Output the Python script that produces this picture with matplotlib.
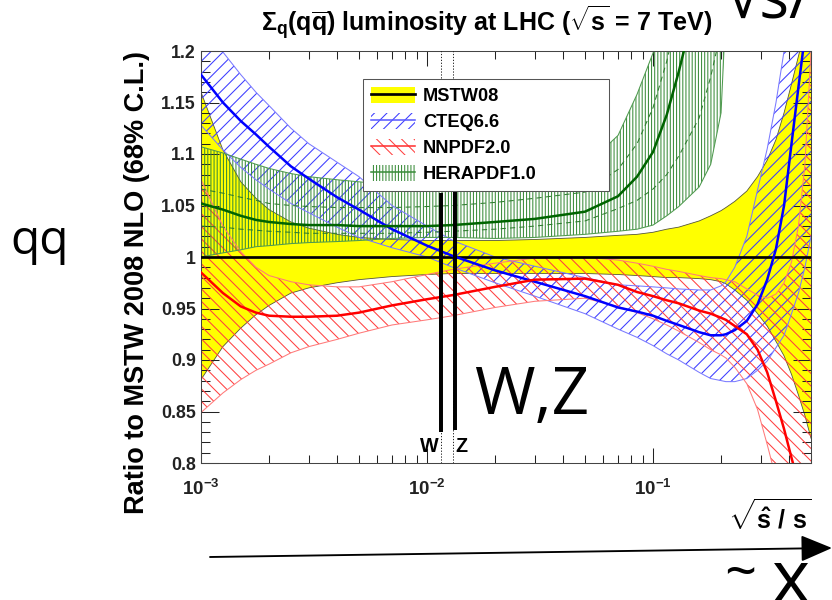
import numpy as np
import matplotlib
matplotlib.use("Agg")
import matplotlib.pyplot as plt
from matplotlib.patches import Patch, FancyArrowPatch
from matplotlib.lines import Line2D
from matplotlib.ticker import FixedLocator, LogLocator, MultipleLocator, FuncFormatter, NullFormatter

# ---------------- data ----------------
x = [0.001, 0.00125, 0.0015, 0.00175, 0.002, 0.0025, 0.003, 0.004, 0.005, 0.007,
     0.01, 0.013, 0.02, 0.03, 0.05, 0.07, 0.085, 0.1, 0.115, 0.13,
     0.16, 0.18, 0.2, 0.21, 0.23, 0.26, 0.29, 0.32, 0.35, 0.38,
     0.41, 0.44, 0.47, 0.5]

mstw_hi = [1.160, 1.104, 1.073, 1.057, 1.046, 1.034, 1.028, 1.022, 1.019, 1.017,
           1.016, 1.016, 1.016, 1.017, 1.019, 1.021, 1.022, 1.024, 1.027, 1.029,
           1.035, 1.040, 1.045, 1.048, 1.054, 1.064, 1.078, 1.094, 1.114, 1.140,
           1.168, 1.195, 1.220, 1.250]
mstw_lo = [0.881, 0.913, 0.931, 0.944, 0.953, 0.965, 0.970, 0.975, 0.978, 0.981,
           0.983, 0.984, 0.984, 0.984, 0.984, 0.983, 0.982, 0.981, 0.980, 0.980,
           0.979, 0.978, 0.976, 0.974, 0.968, 0.958, 0.945, 0.933, 0.918, 0.904,
           0.886, 0.866, 0.846, 0.824]

cteq_c = [1.177, 1.150, 1.132, 1.119, 1.107, 1.088, 1.076, 1.058, 1.046, 1.027,
          1.011, 1.001, 0.987, 0.976, 0.962, 0.951, 0.947, 0.943, 0.938, 0.934,
          0.927, 0.924, 0.924, 0.925, 0.929, 0.938, 0.954, 0.978, 1.008, 1.050,
          1.110, 1.165, 1.215, 1.270]
cteq_hi = [1.225, 1.199, 1.177, 1.160, 1.147, 1.125, 1.110, 1.092, 1.078, 1.050,
           1.030, 1.016, 1.000, 0.991, 0.980, 0.973, 0.972, 0.971, 0.970, 0.969,
           0.968, 0.968, 0.972, 0.976, 0.990, 1.020, 1.065, 1.105, 1.150, 1.200,
           1.250, 1.300, 1.350, 1.400]
cteq_lo = [1.128, 1.104, 1.087, 1.075, 1.066, 1.052, 1.043, 1.029, 1.019, 1.009,
           1.000, 0.990, 0.975, 0.962, 0.945, 0.930, 0.922, 0.914, 0.906, 0.900,
           0.888, 0.882, 0.880, 0.879, 0.879, 0.882, 0.890, 0.899, 0.912, 0.924,
           0.945, 0.965, 0.990, 1.020]

nnpdf_c = [0.985, 0.965, 0.952, 0.946, 0.943, 0.942, 0.942, 0.943, 0.946, 0.953,
           0.959, 0.963, 0.971, 0.978, 0.979, 0.973, 0.966, 0.962, 0.958, 0.955,
           0.948, 0.945, 0.941, 0.939, 0.933, 0.925, 0.910, 0.888, 0.860, 0.833,
           0.805, 0.780, 0.760, 0.740]
nnpdf_hi = [1.075, 1.030, 1.005, 0.990, 0.982, 0.976, 0.973, 0.971, 0.971, 0.976,
            0.983, 0.988, 0.994, 0.999, 1.000, 0.997, 0.994, 0.991, 0.988, 0.986,
            0.982, 0.980, 0.979, 0.978, 0.976, 0.969, 0.963, 0.960, 0.964, 0.975,
            0.995, 1.030, 1.090, 1.200]
nnpdf_lo = [0.849, 0.868, 0.881, 0.890, 0.896, 0.907, 0.913, 0.920, 0.926, 0.934,
            0.939, 0.943, 0.951, 0.957, 0.960, 0.952, 0.946, 0.940, 0.934, 0.928,
            0.917, 0.910, 0.905, 0.902, 0.893, 0.877, 0.852, 0.818, 0.785, 0.760,
            0.740, 0.720, 0.700, 0.680]

nan = np.nan
hera_c = [1.052, 1.046, 1.040, 1.036, 1.034, 1.032, 1.031, 1.031, 1.030, 1.030,
          1.030, 1.031, 1.034, 1.037, 1.044, 1.059, 1.078, 1.102, 1.138, 1.180,
          1.260, 1.320, 1.380, 1.410, nan, nan, nan, nan, nan, nan,
          nan, nan, nan, nan]
hera_hi = [1.107, 1.101, 1.095, 1.090, 1.086, 1.081, 1.078, 1.075, 1.073, 1.070,
           1.068, 1.068, 1.068, 1.071, 1.088, 1.118, 1.158, 1.198, 1.240, 1.290,
           1.380, 1.450, 1.520, 1.560, nan, nan, nan, nan, nan, nan,
           nan, nan, nan, nan]
hera_lo = [1.000, 1.004, 1.007, 1.010, 1.011, 1.013, 1.014, 1.015, 1.016, 1.018,
           1.019, 1.019, 1.018, 1.019, 1.022, 1.025, 1.027, 1.031, 1.040, 1.049,
           1.068, 1.090, 1.140, 1.240, nan, nan, nan, nan, nan, nan,
           nan, nan, nan, nan]
hera_exp_hi = [1.066, 1.062, 1.058, 1.055, 1.052, 1.050, 1.049, 1.048, 1.048, 1.048,
               1.049, 1.050, 1.053, 1.057, 1.063, 1.085, 1.110, 1.145, 1.190, 1.240,
               1.330, 1.400, 1.460, 1.500, nan, nan, nan, nan, nan, nan,
               nan, nan, nan, nan]
hera_exp_lo = [1.030, 1.029, 1.027, 1.026, 1.025, 1.024, 1.023, 1.023, 1.023, 1.023,
               1.024, 1.025, 1.027, 1.030, 1.035, 1.047, 1.055, 1.066, 1.080, 1.098,
               1.135, 1.175, 1.220, 1.260, nan, nan, nan, nan, nan, nan,
               nan, nan, nan, nan]

# sqrt(shat/s) of on-shell W and Z production at 7 TeV
w_pos = 0.01149
z_pos = 0.01303

x_ticks = [1e-3, 1e-2, 1e-1]
x_tick_labels = [r"$\mathbf{10^{-3}}$", r"$\mathbf{10^{-2}}$", r"$\mathbf{10^{-1}}$"]
legend_labels = ["MSTW08", "CTEQ6.6", "NNPDF2.0", "HERAPDF1.0"]

# ---------------- style ----------------
plt.rcParams["font.family"] = ["Liberation Sans", "DejaVu Sans"]
plt.rcParams["font.weight"] = "bold"
plt.rcParams["mathtext.fontset"] = "custom"
plt.rcParams["mathtext.rm"] = "Liberation Sans:bold"
plt.rcParams["mathtext.bf"] = "Liberation Sans:bold"
plt.rcParams["mathtext.it"] = "Liberation Sans:bold"
plt.rcParams["mathtext.sf"] = "Liberation Sans:bold"
plt.rcParams["hatch.linewidth"] = 1.0

YELLOW = "#ffff00"
BLUE_H = "#3c3cff"
BLUE_E = "#7a7aff"
RED_H = "#ff4040"
RED_E = "#ff7a7a"
GREEN_H = "#3a8c3a"
GREEN_E = "#4f9a4f"
GREEN_C = "#006400"

DPI = 75
fig = plt.figure(figsize=(832 / DPI, 600 / DPI), dpi=DPI)
ax = fig.add_axes([201 / 832, 1 - 463 / 600, 610 / 832, 412 / 600])

# MSTW08 band
ax.fill_between(x, mstw_lo, mstw_hi, facecolor=YELLOW, edgecolor="none", zorder=1)
ax.plot(x, mstw_hi, color="#55553a", lw=0.8, zorder=1.2)
ax.plot(x, mstw_lo, color="#55553a", lw=0.8, zorder=1.2)

# CTEQ6.6 band
ax.fill_between(x, cteq_lo, cteq_hi, facecolor="none", edgecolor=BLUE_H,
                hatch="//", linewidth=0, zorder=2)
ax.plot(x, cteq_hi, color=BLUE_E, lw=1.0, zorder=2.5)
ax.plot(x, cteq_lo, color=BLUE_E, lw=1.0, zorder=2.5)

# NNPDF2.0 band
ax.fill_between(x, nnpdf_lo, nnpdf_hi, facecolor="none", edgecolor=RED_H,
                hatch="\\\\", linewidth=0, zorder=2.1)
ax.plot(x, nnpdf_hi, color=RED_E, lw=1.0, zorder=2.5)
ax.plot(x, nnpdf_lo, color=RED_E, lw=1.0, zorder=2.5)

# HERAPDF1.0 band (total and experimental-only)
ax.fill_between(x, hera_lo, hera_hi, facecolor="none", edgecolor=GREEN_H,
                hatch="||||", linewidth=0, zorder=2.2)
ax.plot(x, hera_hi, color=GREEN_E, lw=1.0, zorder=2.5)
ax.plot(x, hera_lo, color=GREEN_E, lw=1.0, zorder=2.5)
ax.plot(x, hera_exp_hi, color="#2e7d2e", lw=1.0, ls=(0, (5, 4)), zorder=2.5)
ax.plot(x, hera_exp_lo, color="#2e7d2e", lw=1.0, ls=(0, (5, 4)), zorder=2.5)

# W and Z positions
for xp in (w_pos, z_pos):
    ax.axvline(xp, color="black", lw=0.8, ls=(0, (1.5, 2)), zorder=2.6)

# central values
ax.axhline(1.0, color="black", lw=2.6, zorder=3)
ax.plot(x, cteq_c, color="#0000ff", lw=2.4, zorder=3.1)
ax.plot(x, nnpdf_c, color="#ff0000", lw=2.4, zorder=3.2)
ax.plot(x, hera_c, color=GREEN_C, lw=2.4, zorder=3.3)

# marker lines at the W and Z
ax.plot([w_pos, w_pos], [0.830, 1.062], color="black", lw=3.8, zorder=4,
        solid_capstyle="butt")
ax.plot([0.0133, 0.0133], [0.832, 1.064], color="black", lw=3.8, zorder=4,
        solid_capstyle="butt")
ax.annotate("W", xy=(w_pos, 0.816), xytext=(-2, 0), textcoords="offset points",
            ha="right", va="center", fontsize=19, fontweight="bold", zorder=4)
ax.annotate("Z", xy=(z_pos, 0.816), xytext=(2, 0), textcoords="offset points",
            ha="left", va="center", fontsize=19, fontweight="bold", zorder=4)

# axes
ax.set_xscale("log")
ax.set_xlim(1e-3, 0.5)
ax.set_ylim(0.8, 1.2)
ax.xaxis.set_major_locator(FixedLocator(x_ticks))
ax.set_xticklabels(x_tick_labels)
ax.xaxis.set_minor_locator(LogLocator(base=10, subs=np.arange(2, 10)))
ax.xaxis.set_minor_formatter(NullFormatter())
ax.yaxis.set_major_locator(MultipleLocator(0.05))
ax.yaxis.set_minor_locator(MultipleLocator(0.01))
ax.yaxis.set_major_formatter(FuncFormatter(lambda v, p: f"{v:g}"))

ax.tick_params(which="both", direction="in", top=True, right=True,
               colors="#222222", width=1.0)
ax.tick_params(axis="x", which="major", length=14.5, labelsize=18, pad=15)
ax.tick_params(axis="x", which="minor", length=8)
ax.tick_params(axis="y", which="major", length=17, labelsize=17, pad=5)
ax.tick_params(axis="y", which="minor", length=8.5)
for lab in ax.get_yticklabels():
    lab.set_fontweight("bold")
for sp in ax.spines.values():
    sp.set_color("#444444")
    sp.set_linewidth(1.0)

ax.set_ylabel("Ratio to MSTW 2008 NLO (68% C.L.)", loc="top", fontsize=26,
              fontweight="bold")
ax.yaxis.set_label_coords(-0.105, 1.0)
ax.yaxis.label.set_verticalalignment("center")

ax.set_xlabel(r"$\sqrt{\hat{s}\ /\ s}$", loc="right", fontsize=24)
ax.xaxis.set_label_coords(1.0, -0.085)
ax.xaxis.label.set_verticalalignment("top")

# legend
handles = [
    (Patch(facecolor=YELLOW, edgecolor="none"), Line2D([], [], color="black", lw=2.6)),
    (Patch(facecolor="none", edgecolor=BLUE_H, hatch="//", lw=0),
     Line2D([], [], color="#5a5aff", lw=1.5)),
    (Patch(facecolor="none", edgecolor=RED_H, hatch="\\\\", lw=0),
     Line2D([], [], color="#ff3030", lw=1.5)),
    (Patch(facecolor="none", edgecolor=GREEN_H, hatch="||||", lw=0),
     Line2D([], [], color="#3a8c3a", lw=1.5)),
]
leg = ax.legend(handles, legend_labels, loc="upper left",
                bbox_to_anchor=(0.266, 0.667, 0.403, 0.265), mode="expand",
                borderaxespad=0, frameon=True, fancybox=False, framealpha=1,
                edgecolor="#555555", prop={"weight": "bold", "size": 17.5},
                handlelength=2.4, handleheight=1.0, handletextpad=0.45,
                labelspacing=0.42, borderpad=0.42)
leg.get_frame().set_linewidth(1.0)
leg.set_zorder(5)

# title
fig.text(0.585, 0.962,
         r"$\Sigma_{q}$(q$\overline{q}$) luminosity at LHC ($\sqrt{s}$ = 7 TeV)",
         ha="center", va="center", fontsize=24, fontweight="bold")

# handwritten notes
hand = ["Open Sans", "DejaVu Sans"]
fig.text(10 / 832, 1 - 254 / 600, "qq", family=hand, fontweight="normal",
         fontsize=46, va="baseline", ha="left")
fig.text(474 / 832, 1 - 414 / 600, "W,Z", family=hand, fontweight="normal",
         fontsize=63, va="baseline", ha="left")
fig.text(724 / 832, 1 - 590 / 600, "~", family=hand, fontweight="normal",
         fontsize=54, va="baseline", ha="left")
fig.text(772 / 832, 1 - 602 / 600, "x", family=hand, fontweight="normal",
         fontsize=70, va="baseline", ha="left")
fig.text(726 / 832, 1 - 17 / 600, "\u221as/", family=hand, fontweight="normal",
         fontsize=60, va="baseline", ha="left")

arrow = FancyArrowPatch((210 / 832, 1 - 557 / 600), (1.0, 1 - 548 / 600),
                        transform=fig.transFigure,
                        arrowstyle="-|>,head_length=26,head_width=11",
                        mutation_scale=1, lw=1.8, color="black",
                        shrinkA=0, shrinkB=0)
fig.add_artist(arrow)

fig.savefig("out.png", dpi=DPI)
